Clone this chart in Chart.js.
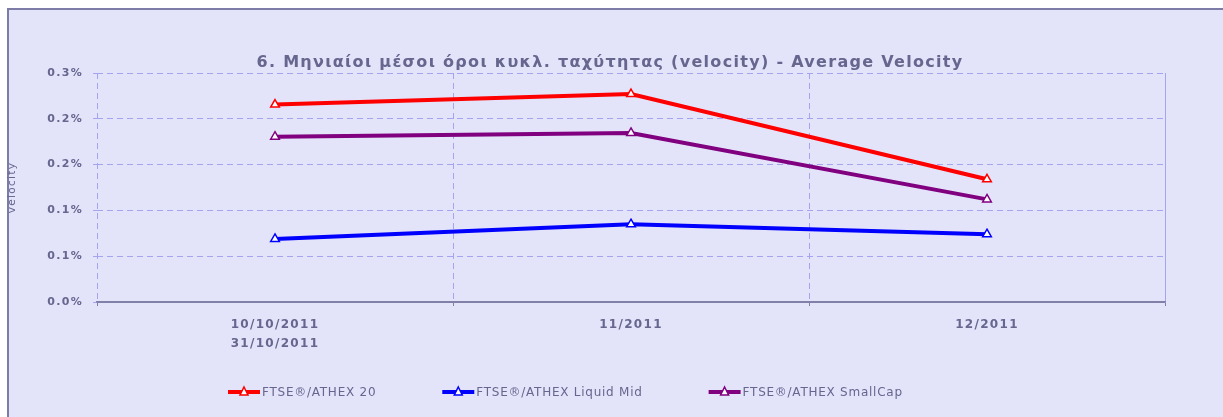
<!DOCTYPE html>
<html>
<head>
<meta charset="utf-8">
<script src="https://cdn.jsdelivr.net/npm/chart.js@4"></script>
<style>
  html, body { margin: 0; background: #ffffff; overflow: hidden; }
  #wrap { position: absolute; left: 0; top: 0; width: 1223px; height: 417px; }
</style>
</head>
<body>
<div id="wrap"><canvas id="velocityChart" width="1223" height="417"></canvas></div>
<script>
// δεδομένα
var categories = [['10/10/2011', '31/10/2011'], '11/2011', '12/2011'];
var seriesNames = ['FTSE®/ATHEX 20', 'FTSE®/ATHEX Liquid Mid', 'FTSE®/ATHEX SmallCap'];
var ftse20 = [0.2156, 0.227, 0.134];
var liquidMid = [0.0688, 0.085, 0.074];
var smallCap = [0.1805, 0.1845, 0.112];
var yTickLabels = ['0.0%', '0.1%', '0.1%', '0.2%', '0.2%', '0.3%'];
var chartTitle = '6. Μηνιαίοι μέσοι όροι κυκλ. ταχύτητας (velocity) - Average Velocity';

var textColor = '#66668e';
var gridColor = '#a4a4f0';
var axisColor = '#8080a8';

// φόντο, τίτλος, υπόμνημα
var customText = {
    id: 'customText',
    beforeUpdate: function(chart) { chart.ctx.letterSpacing = '1.3px'; },
    beforeDraw: function(chart) {
        var ctx = chart.ctx;
        ctx.save();
        ctx.fillStyle = '#ffffff';
        ctx.fillRect(0, 0, chart.width, chart.height);
        ctx.fillStyle = '#e3e3fa';
        ctx.fillRect(7, 8, chart.width - 7, chart.height - 8);
        ctx.fillStyle = '#7c7ca6';
        ctx.fillRect(7, 8, chart.width - 7, 2);
        ctx.fillRect(7, 8, 2, chart.height - 8);
        ctx.restore();
        ctx.letterSpacing = '1.3px';
    },
    afterDraw: function(chart) {
        var ctx = chart.ctx;
        ctx.save();
        ctx.fillStyle = textColor;
        ctx.font = 'bold 16px "DejaVu Sans"';
        ctx.letterSpacing = '1.3px';
        ctx.textAlign = 'center';
        ctx.textBaseline = 'middle';
        ctx.fillText(chartTitle, 610, 63);

        // υπόμνημα
        ctx.font = '12px "DejaVu Sans"';
        ctx.letterSpacing = '0.75px';
        ctx.textAlign = 'left';
        var x = 228, y = 392;
        chart.data.datasets.forEach(function(ds) {
            ctx.strokeStyle = ds.borderColor;
            ctx.lineWidth = 4;
            ctx.beginPath();
            ctx.moveTo(x, y);
            ctx.lineTo(x + 32, y);
            ctx.stroke();
            ctx.fillStyle = '#ffffff';
            ctx.lineWidth = 1.5;
            ctx.beginPath();
            ctx.moveTo(x + 16, y - 5);
            ctx.lineTo(x + 20, y + 3);
            ctx.lineTo(x + 12, y + 3);
            ctx.closePath();
            ctx.fill();
            ctx.stroke();
            ctx.fillStyle = textColor;
            ctx.fillText(ds.label, x + 34, y + 1);
            x += 34 + ctx.measureText(ds.label).width + 66;
        });
        ctx.restore();
    }
};

function makeSet(label, data, color) {
    return {
        label: label,
        data: data,
        borderColor: color,
        backgroundColor: '#ffffff',
        borderWidth: 4,
        pointStyle: 'triangle',
        pointRadius: 5,
        pointBorderWidth: 1.5,
        pointBackgroundColor: '#ffffff',
        pointBorderColor: color,
        tension: 0
    };
}

var ctx = document.getElementById('velocityChart').getContext('2d');
var velocityChart = new Chart(ctx, {
    type: 'line',
    data: {
        labels: categories,
        datasets: [
            makeSet(seriesNames[0], ftse20, '#ff0000'),
            makeSet(seriesNames[1], liquidMid, '#0000ff'),
            makeSet(seriesNames[2], smallCap, '#800080')
        ]
    },
    options: {
        responsive: false,
        animation: false,
        layout: { padding: { left: 0, right: 58, top: 73, bottom: 65 } },
        plugins: {
            legend: { display: false },
            title: { display: false },
            tooltip: { enabled: false }
        },
        scales: {
            x: {
                offset: true,
                grid: {
                    offset: true,
                    color: gridColor,
                    lineWidth: 1,
                    drawTicks: true,
                    tickLength: 4,
                    tickColor: axisColor
                },
                border: {
                    display: true,
                    color: axisColor,
                    width: 1.5,
                    dash: function(c) { return c.type === 'tick' ? [6, 4] : []; }
                },
                ticks: {
                    color: textColor,
                    font: { family: 'DejaVu Sans', size: 12, weight: 'bold', lineHeight: 1.55 },
                    padding: 10,
                    maxRotation: 0
                },
                afterFit: function(scale) { scale.height = 50; }
            },
            y: {
                min: 0,
                max: 0.25,
                grid: {
                    color: function(c) { return c.index === 0 ? axisColor : gridColor; },
                    tickLength: 4,
                    tickColor: gridColor
                },
                border: {
                    display: false,
                    dash: function(c) { return c.index === 0 ? [] : [6, 4]; }
                },
                ticks: {
                    stepSize: 0.05,
                    color: textColor,
                    padding: 10,
                    font: { family: 'DejaVu Sans', size: 11, weight: 'bold' },
                    callback: function(v, i) { return yTickLabels[i]; }
                },
                title: {
                    display: true,
                    text: 'velocity',
                    color: textColor,
                    font: { family: 'DejaVu Sans', size: 10.5 },
                    padding: { top: 6, bottom: 0 }
                },
                afterFit: function(scale) { scale.width = 97; }
            }
        }
    },
    plugins: [customText]
});
</script>
</body>
</html>
